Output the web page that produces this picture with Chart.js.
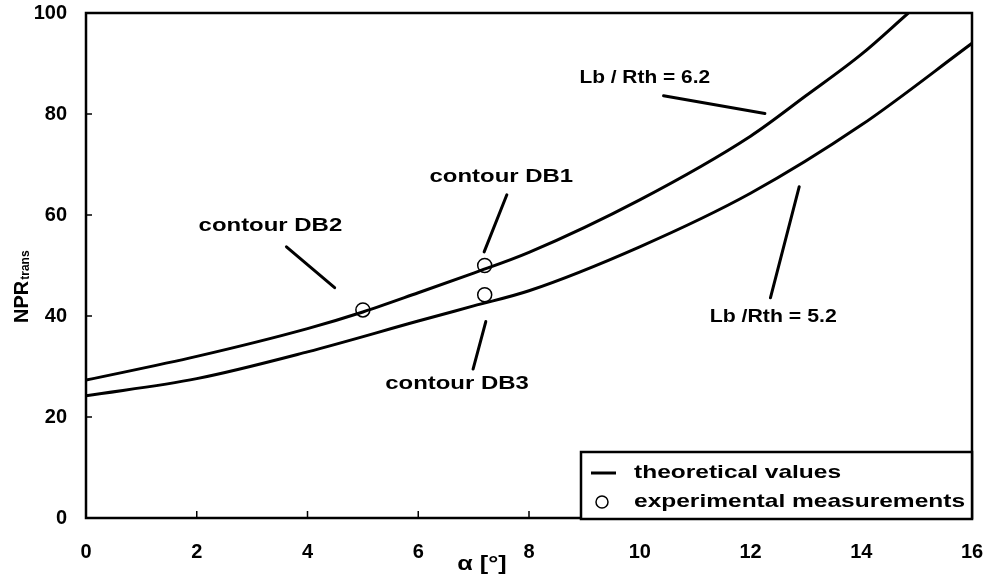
<!DOCTYPE html>
<html>
<head>
<meta charset="utf-8">
<script src="https://cdn.jsdelivr.net/npm/chart.js@4.4.1/dist/chart.umd.min.js"></script>
<style>
  html, body { margin: 0; padding: 0; background: #fff; }
  #wrap { width: 987px; height: 579px; }
</style>
</head>
<body>
<div id="wrap"><canvas id="npr" width="987" height="579"></canvas></div>
<script>
// theoretical curves, Lb/Rth = 6.2 and 5.2
const alphaHigh = [0, 2, 4, 5, 6, 7, 8, 10, 12, 13, 14, 14.85];
const nprHigh = [27.3, 32, 37.5, 40.8, 44.6, 48.5, 52.6, 63, 75.6, 83.6, 91.8, 100];
const alphaLow = [0, 2, 4, 6, 7, 8, 10, 12, 14, 16];
const nprLow = [24.2, 27.6, 32.9, 39.0, 42.0, 45.0, 53.7, 64.3, 77.8, 94];

// measured contours DB2, DB1, DB3
const alphaMeas = [5, 7.2, 7.2];
const nprMeas = [41.2, 50, 44.2];

const xTicks = [0, 2, 4, 6, 8, 10, 12, 14, 16];
const yTicks = [0, 20, 40, 60, 80, 100];

const FONT = "'Liberation Sans', Arial, sans-serif";

// callouts, in axis units
const notes = [
  { text: "contour DB2", x: 3.33, y: 57.8, sx: 1.26 },
  { text: "contour DB1", x: 7.5, y: 67.6, sx: 1.26 },
  { text: "contour DB3", x: 6.7, y: 26.5, sx: 1.26 },
  { text: "Lb / Rth = 6.2", x: 10.09, y: 87.1, sx: 1.1 },
  { text: "Lb /Rth = 5.2", x: 12.41, y: 39.9, sx: 1.12 }
];
const leaders = [
  [3.62, 53.7, 4.49, 45.6],
  [7.6, 64.0, 7.19, 52.7],
  [7.22, 38.9, 6.99, 29.5],
  [10.43, 83.6, 12.26, 80.1],
  [12.88, 65.6, 12.36, 43.6]
];

const pts = (xs, ys) => xs.map((x, i) => ({ x: x, y: ys[i] }));

// bold text, stretched a little horizontally
function wideText(ctx, text, x, y, size, align, sx) {
  sx = sx || 1.2;
  ctx.save();
  ctx.font = "bold " + size + "px " + FONT;
  ctx.textBaseline = "middle";
  const w = ctx.measureText(text).width * sx;
  let left = x;
  if (align === "center") left = x - w / 2;
  ctx.translate(left, y);
  ctx.scale(sx, 1);
  ctx.textAlign = "left";
  ctx.fillText(text, 0, 0);
  ctx.restore();
}

const decor = {
  id: "decor",
  afterDatasetsDraw(chart) {
    const ctx = chart.ctx;
    const a = chart.chartArea;
    const xs = chart.scales.x, ys = chart.scales.y;
    ctx.save();
    ctx.fillStyle = "#000";
    ctx.strokeStyle = "#000";

    // frame
    ctx.lineWidth = 2.5;
    ctx.strokeRect(a.left, a.top, a.right - a.left, a.bottom - a.top);

    // inward tick marks
    ctx.lineWidth = 1.5;
    ctx.beginPath();
    yTicks.slice(1, -1).forEach(v => {
      const py = ys.getPixelForValue(v);
      ctx.moveTo(a.left, py);
      ctx.lineTo(a.left + 6, py);
    });
    xTicks.slice(1, -1).forEach(v => {
      const px = xs.getPixelForValue(v);
      ctx.moveTo(px, a.bottom);
      ctx.lineTo(px, a.bottom - 7);
    });
    ctx.stroke();

    // leader lines
    ctx.lineWidth = 3;
    ctx.lineCap = "round";
    leaders.forEach(l => {
      ctx.beginPath();
      ctx.moveTo(xs.getPixelForValue(l[0]), ys.getPixelForValue(l[1]));
      ctx.lineTo(xs.getPixelForValue(l[2]), ys.getPixelForValue(l[3]));
      ctx.stroke();
    });

    // callout text
    notes.forEach(n => {
      wideText(ctx, n.text, xs.getPixelForValue(n.x), ys.getPixelForValue(n.y), 19, "center", n.sx);
    });

    // legend box
    const bw = 391, bh = 67;
    const bx = a.right - bw, by = a.bottom + 1 - bh;
    ctx.fillStyle = "#fff";
    ctx.fillRect(bx, by, bw, bh);
    ctx.lineWidth = 2.5;
    ctx.lineCap = "butt";
    ctx.strokeRect(bx, by, bw, bh);
    ctx.fillStyle = "#000";
    ctx.lineWidth = 3;
    ctx.beginPath();
    ctx.moveTo(bx + 10, by + 21);
    ctx.lineTo(bx + 35, by + 21);
    ctx.stroke();
    wideText(ctx, chart.data.datasets[0].label, bx + 53, by + 21, 19, "left", 1.29);
    ctx.lineWidth = 1.5;
    ctx.beginPath();
    ctx.arc(bx + 21, by + 50, 6, 0, Math.PI * 2);
    ctx.stroke();
    wideText(ctx, chart.data.datasets[2].label, bx + 53, by + 50, 19, "left", 1.29);

    // axis titles
    wideText(ctx, "\u03b1 [\u00b0]", 482, 564, 21, "center");
    ctx.save();
    ctx.translate(22, 323);
    ctx.rotate(-Math.PI / 2);
    ctx.font = "bold 20px " + FONT;
    ctx.textBaseline = "middle";
    ctx.textAlign = "left";
    ctx.fillText("NPR", 0, 0);
    const w = ctx.measureText("NPR").width;
    ctx.font = "bold 12px " + FONT;
    ctx.fillText("trans", w + 1, 4);
    ctx.restore();

    ctx.restore();
  }
};

new Chart(document.getElementById("npr"), {
  type: "line",
  data: {
    datasets: [
      {
        label: "theoretical values",
        data: pts(alphaHigh, nprHigh),
        borderColor: "#000",
        borderWidth: 3,
        pointRadius: 0,
        cubicInterpolationMode: "monotone",
        fill: false
      },
      {
        label: "theoretical values",
        data: pts(alphaLow, nprLow),
        borderColor: "#000",
        borderWidth: 3,
        pointRadius: 0,
        cubicInterpolationMode: "monotone",
        fill: false
      },
      {
        label: "experimental measurements",
        type: "scatter",
        data: pts(alphaMeas, nprMeas),
        showLine: false,
        pointRadius: 7,
        pointBorderWidth: 1.5,
        pointBackgroundColor: "#fff",
        pointBorderColor: "#000"
      }
    ]
  },
  options: {
    responsive: false,
    animation: false,
    layout: { padding: { left: 0, top: 13, right: 15, bottom: 0 } },
    plugins: { legend: { display: false }, tooltip: { enabled: false } },
    scales: {
      x: {
        type: "linear",
        min: 0,
        max: 16,
        afterFit: s => { s.height = 61; s.paddingLeft = 0; s.paddingRight = 0; },
        afterBuildTicks: s => { s.ticks = xTicks.map(v => ({ value: v })); },
        grid: { display: false, drawTicks: false },
        border: { display: false },
        ticks: { color: "#000", padding: 22, font: { family: FONT, size: 20, weight: "bold" } }
      },
      y: {
        min: 0,
        max: 100,
        afterFit: s => { s.width = 86; s.paddingTop = 0; s.paddingBottom = 0; },
        afterBuildTicks: s => { s.ticks = yTicks.map(v => ({ value: v })); },
        grid: { display: false, drawTicks: false },
        border: { display: false },
        ticks: { color: "#000", padding: 19, font: { family: FONT, size: 20, weight: "bold" } }
      }
    }
  },
  plugins: [decor]
});
</script>
</body>
</html>
